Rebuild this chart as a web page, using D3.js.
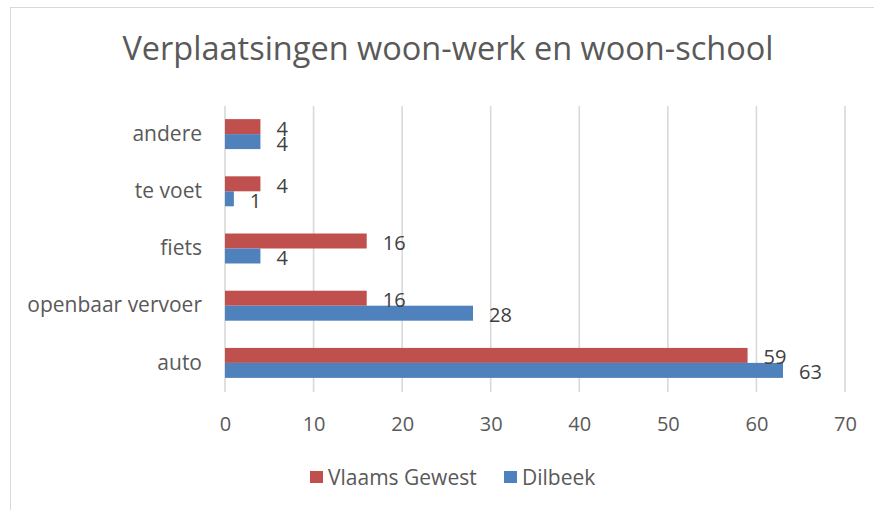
<!DOCTYPE html>
<html>
<head>
<meta charset="utf-8">
<script src="https://cdn.jsdelivr.net/npm/d3@7"></script>
<style>
  body { margin: 0; background: #fff; }
  text { font-family: "Open Sans", sans-serif; }
</style>
</head>
<body>
<svg id="chart" width="874" height="510"></svg>
<script>
// data
var categories = ["andere", "te voet", "fiets", "openbaar vervoer", "auto"];
var series = ["Vlaams Gewest", "Dilbeek"];
var vlaams = [4, 4, 16, 16, 59];
var dilbeek = [4, 1, 4, 28, 63];
var xTicks = [0, 10, 20, 30, 40, 50, 60, 70];
var colors = ["#C0504D", "#4F81BD"];

var rows = categories.map(function (c, i) {
  return {cat: c, values: [vlaams[i], dilbeek[i]]};
});

var svg = d3.select("#chart");

// outer frame
svg.append("rect")
  .attr("x", 10.5).attr("y", 7.5)
  .attr("width", 900).attr("height", 600)
  .attr("fill", "none")
  .attr("stroke", "#d9d9d9")
  .attr("stroke-width", 1);

// title
svg.append("text")
  .attr("x", 448)
  .attr("y", 60)
  .attr("text-anchor", "middle")
  .style("font-size", "32.5px")
  .style("fill", "#595959")
  .text("Verplaatsingen woon-werk en woon-school");

var x = d3.scaleLinear()
  .domain([0, 70])
  .range([225, 845]);

var y = d3.scaleBand()
  .domain(categories)
  .range([105.5, 391.5])
  .paddingInner(0.476)
  .paddingOuter(0.238);

var ySub = d3.scaleBand()
  .domain(series)
  .range([0, y.bandwidth()]);

// gridlines
svg.append("g")
  .selectAll("line")
  .data(xTicks)
  .enter()
  .append("line")
    .attr("x1", d => x(d))
    .attr("x2", d => x(d))
    .attr("y1", 106)
    .attr("y2", 392)
    .attr("stroke", "#d9d9d9")
    .attr("stroke-width", 1.6);

// x axis labels
var xAxis = svg.append("g")
  .attr("transform", "translate(0, 392)")
  .call(d3.axisBottom(x).tickValues(xTicks).tickSize(0).tickPadding(0));
xAxis.select(".domain").remove();
xAxis.selectAll("text")
  .attr("dy", null)
  .attr("y", 39)
  .style("font-size", "20px")
  .style("fill", "#595959")
  .style("font-family", "'Open Sans', sans-serif");

// y axis labels
var yAxis = svg.append("g")
  .attr("transform", "translate(202, 0)")
  .call(d3.axisLeft(y).tickSize(0).tickPadding(0));
yAxis.select(".domain").remove();
yAxis.selectAll("text")
  .style("font-size", "21px")
  .style("fill", "#595959")
  .style("font-family", "'Open Sans', sans-serif");

// bars
var groups = svg.append("g")
  .selectAll("g")
  .data(rows)
  .enter()
  .append("g")
    .attr("transform", d => "translate(0," + y(d.cat) + ")");

groups.selectAll("rect")
  .data(d => d.values.map((v, i) => ({name: series[i], value: v, i: i})))
  .enter()
  .append("rect")
    .attr("x", x(0))
    .attr("y", d => ySub(d.name))
    .attr("width", d => x(d.value) - x(0))
    .attr("height", ySub.bandwidth())
    .attr("fill", d => colors[d.i]);

// data labels
groups.selectAll("text.lbl")
  .data(d => d.values.map((v, i) => ({name: series[i], value: v, i: i})))
  .enter()
  .append("text")
    .attr("class", "lbl")
    .attr("x", d => x(d.value) + 16)
    .attr("y", d => ySub(d.name) + ySub.bandwidth() / 2 + 9)
    .style("font-size", "20px")
    .style("fill", "#404040")
    .text(d => d.value);

// legend
var legend = svg.append("g")
  .selectAll("g")
  .data(series)
  .enter()
  .append("g")
    .attr("transform", (d, i) => "translate(" + [310, 504][i] + ",471)");
legend.append("rect")
  .attr("width", 13)
  .attr("height", 12)
  .attr("fill", (d, i) => colors[i]);
legend.append("text")
  .attr("x", 18)
  .attr("y", 13.5)
  .style("font-size", "21px")
  .style("fill", "#595959")
  .text(d => d);
</script>
</body>
</html>
